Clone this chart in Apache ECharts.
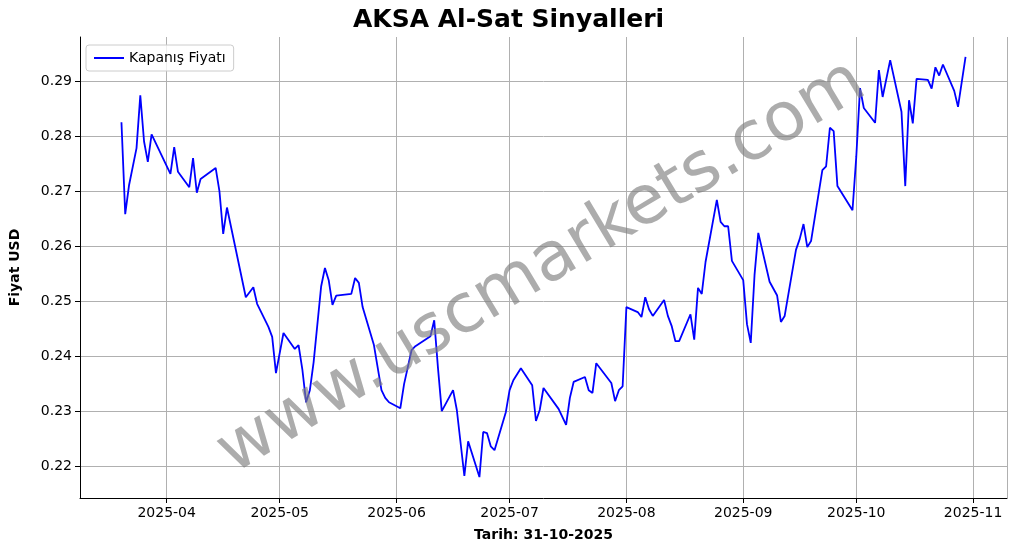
<!DOCTYPE html>
<html>
<head>
<meta charset="utf-8">
<script src="https://cdn.jsdelivr.net/npm/echarts@6/dist/echarts.min.js"></script>
<style>html,body{margin:0;padding:0;background:#fff}#main{width:1017px;height:554px}</style>
</head>
<body>
<div id="main"></div>
<script>
var dates = ['2025-03-20','2025-03-21','2025-03-22','2025-03-24','2025-03-25','2025-03-26','2025-03-27','2025-03-28',
'2025-04-02','2025-04-03','2025-04-04','2025-04-07','2025-04-08','2025-04-09','2025-04-10','2025-04-14','2025-04-15','2025-04-16','2025-04-17',
'2025-04-22','2025-04-24','2025-04-25','2025-04-28','2025-04-29','2025-04-30','2025-05-02','2025-05-05','2025-05-06','2025-05-07','2025-05-08',
'2025-05-09','2025-05-10','2025-05-12','2025-05-13','2025-05-14','2025-05-15','2025-05-16','2025-05-20','2025-05-21','2025-05-22','2025-05-23',
'2025-05-26','2025-05-28','2025-05-29','2025-05-30','2025-06-02','2025-06-03','2025-06-05','2025-06-06','2025-06-10','2025-06-11','2025-06-12',
'2025-06-13','2025-06-16','2025-06-17','2025-06-19','2025-06-20','2025-06-23','2025-06-24','2025-06-25','2025-06-26','2025-06-27','2025-06-30',
'2025-07-01','2025-07-02','2025-07-04','2025-07-07','2025-07-08','2025-07-09','2025-07-10','2025-07-14','2025-07-16','2025-07-17','2025-07-18',
'2025-07-21','2025-07-22','2025-07-23','2025-07-24','2025-07-28','2025-07-29','2025-07-30','2025-07-31','2025-08-01','2025-08-04','2025-08-05',
'2025-08-06','2025-08-07','2025-08-08','2025-08-11','2025-08-12','2025-08-13','2025-08-14','2025-08-15','2025-08-18','2025-08-19','2025-08-20',
'2025-08-21','2025-08-22','2025-08-25','2025-08-26','2025-08-27','2025-08-28','2025-08-29','2025-09-01','2025-09-02','2025-09-03','2025-09-04',
'2025-09-05','2025-09-08','2025-09-10','2025-09-11','2025-09-12','2025-09-15','2025-09-16','2025-09-17','2025-09-18','2025-09-19','2025-09-22',
'2025-09-23','2025-09-24','2025-09-25','2025-09-26','2025-09-30','2025-10-01','2025-10-02','2025-10-03','2025-10-06','2025-10-07','2025-10-08',
'2025-10-10','2025-10-13','2025-10-14','2025-10-15','2025-10-16','2025-10-17','2025-10-20','2025-10-21','2025-10-22','2025-10-23','2025-10-24',
'2025-10-27','2025-10-28','2025-10-30'];
var prices = [0.2825,0.2658,0.271,0.2778,0.2874,0.279,0.2753,0.2803,
0.2731,0.278,0.2735,0.2707,0.276,0.2697,0.2722,0.2742,0.270,0.2622,0.267,
0.2507,0.2525,0.2495,0.2453,0.2435,0.2369,0.2442,0.2413,0.242,0.2376,0.2316,
0.2338,0.2389,0.2527,0.256,0.2538,0.2493,0.251,0.2513,0.2542,0.2533,0.2489,
0.242,0.2338,0.2324,0.2316,0.2305,0.2349,0.2411,0.2418,0.2436,0.2465,0.2378,
0.230,0.2338,0.2302,0.2182,0.2245,0.218,0.2262,0.226,0.2236,0.2229,0.2298,
0.2338,0.2356,0.2378,0.2347,0.2282,0.2302,0.2342,0.2304,0.2275,0.2324,0.2353,
0.2362,0.2338,0.2333,0.2387,0.2351,0.2318,0.2338,0.2345,0.2489,0.248,0.2471,
0.2507,0.2485,0.2473,0.2502,0.2473,0.2455,0.2427,0.2427,0.2476,0.243,0.2524,
0.2513,0.2571,0.2684,0.2644,0.2636,0.2636,0.2573,0.2538,0.2458,0.2424,0.2547,
0.2624,0.2535,0.251,0.2462,0.2473,0.2593,0.2613,0.264,0.2598,0.2609,0.2738,
0.2745,0.2815,0.2809,0.2709,0.2665,0.2762,0.2887,0.2851,0.2824,0.292,0.2871,
0.2938,0.2844,0.2709,0.2865,0.2823,0.2904,0.2902,0.2886,0.2925,0.291,0.293,
0.2882,0.2853,0.2944];
var yTicks = [0.22,0.23,0.24,0.25,0.26,0.27,0.28,0.29];

var seriesData = [];
for (var i = 0; i < dates.length; i++) {
	seriesData.push([dates[i], prices[i]]);
}

var myChart = echarts.init(document.getElementById('main'));
var font = 'DejaVu Sans';
var option = {
	animation: false,
	backgroundColor: '#fff',
	title: {
		text: 'AKSA Al-Sat Sinyalleri',
		left: 'center', top: 3,
		textStyle: {fontFamily: font, fontSize: 25, fontWeight: 'bold', color: '#000'}
	},
	legend: {
		left: 86, top: 45,
		orient: 'vertical',
		padding: [6, 8],
		borderColor: '#ccc', borderWidth: 1, borderRadius: 3,
		backgroundColor: 'rgba(255,255,255,0.8)',
		itemWidth: 30, itemHeight: 2,
		icon: 'rect',
		textStyle: {fontFamily: font, fontSize: 14, color: '#000'},
		data: ['Kapanış Fiyatı']
	},
	graphic: [{
		type: 'text',
		x: 542, y: 268,
		rotation: 31 * Math.PI / 180,
		style: {
			text: 'www.uscmarkets.com',
			fontFamily: font, fontSize: 68,
			fill: 'rgba(128,128,128,0.65)',
			align: 'center', verticalAlign: 'middle'
		},
		z: 100
	}],
	grid: {left: 77, right: 10, top: 37, bottom: 56},
	xAxis: {
		type: 'time',
		min: '2025-03-09', max: '2025-11-10',
		minInterval: 28 * 86400000, maxInterval: 31 * 86400000,
		name: 'Tarih: 31-10-2025',
		nameLocation: 'middle', nameGap: 30,
		nameTextStyle: {fontFamily: font, fontSize: 14, fontWeight: 'bold', color: '#000'},
		axisLine: {onZero: false, lineStyle: {color: '#000'}},
		axisTick: {show: true, length: 5, lineStyle: {color: '#000'}},
		axisLabel: {
			fontFamily: font, fontSize: 14, color: '#000', margin: 8,
			formatter: function (v) {
				var d = new Date(v);
				var m = d.getMonth() + 1;
				return d.getFullYear() + '-' + (m < 10 ? '0' + m : m);
			}
		},
		splitLine: {show: true, lineStyle: {color: '#b0b0b0', width: 1}},
		boundaryGap: false
	},
	yAxis: {
		type: 'value',
		min: 0.2142, max: 0.298,
		name: 'Fiyat USD',
		nameLocation: 'middle', nameGap: 58,
		nameTextStyle: {fontFamily: font, fontSize: 14, fontWeight: 'bold', color: '#000'},
		axisLine: {show: true, lineStyle: {color: '#000'}},
		axisLabel: {
			fontFamily: font, fontSize: 14, color: '#000',
			customValues: yTicks,
			formatter: function (v) { return v.toFixed(2); }
		},
		axisTick: {show: true, length: 5, customValues: yTicks, lineStyle: {color: '#000'}},
		splitLine: {show: true, lineStyle: {color: '#b0b0b0', width: 1}},
		interval: 0.01
	},
	series: [{
		name: 'Kapanış Fiyatı',
		type: 'line',
		data: seriesData,
		showSymbol: false,
		lineStyle: {color: '#0000ff', width: 1.8},
		itemStyle: {color: '#0000ff'}
	}]
};
myChart.setOption(option);
</script>
</body>
</html>
